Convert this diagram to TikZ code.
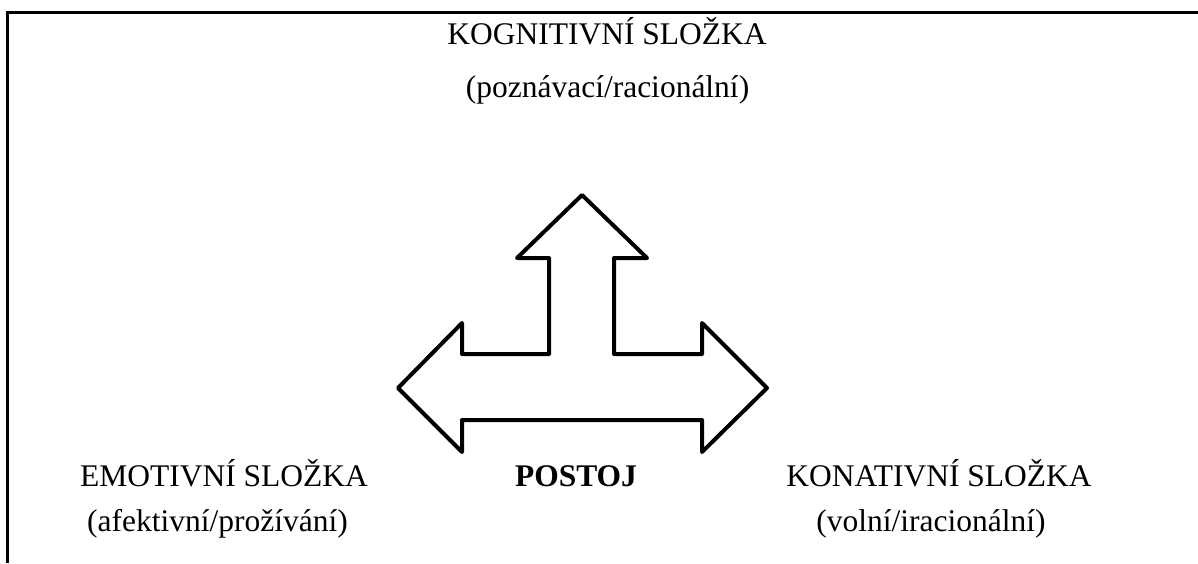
\documentclass[tikz,border=0pt]{standalone}
\usepackage{fontspec}
\setmainfont{Liberation Serif}
\usepackage{tikz}
\usetikzlibrary{positioning}

\begin{document}
\begin{tikzpicture}[
                x=1pt,y=-1pt,
                every node/.append style={inner sep=0pt,anchor=base,font=\fontsize{31.5}{38}\selectfont},
                frame/.style={line width=3pt},
                arrowshape/.style={line width=4pt,line join=round}
            ]
                \useasboundingbox (0,0) rectangle (1198,563);
                % frame: top and left only
                \draw[frame] (7.7,563) -- (7.7,12.8) -- (1198,12.8);
                % labels
                \node (kog)    at (607,44)    {KOGNITIVNÍ SLOŽKA};
                \node (kogsub) at (607.5,97)  {(poznávací/racionální)};
                \node (emo)    at (224,486.7) {EMOTIVNÍ SLOŽKA};
                \node (emosub) at (217.5,531.7) {(afektivní/prožívání)};
                \node (post)   at (576,486.7) {\bfseries POSTOJ};
                \node (kon)    at (939,486.7) {KONATIVNÍ SLOŽKA};
                \node (konsub) at (931,531.7) {(volní/iracionální)};
                % three-way arrow
                \draw[arrowshape] (582,195) -- (647,258) -- (614,258) -- (614,354)
                    -- (702,354) -- (702,323) -- (767,388) -- (702,452) -- (702,420)
                    -- (462,420) -- (462,452) -- (398,388) -- (462,323) -- (462,354)
                    -- (549,354) -- (549,258) -- (517,258) -- cycle;
            \end{tikzpicture}
\end{document}
